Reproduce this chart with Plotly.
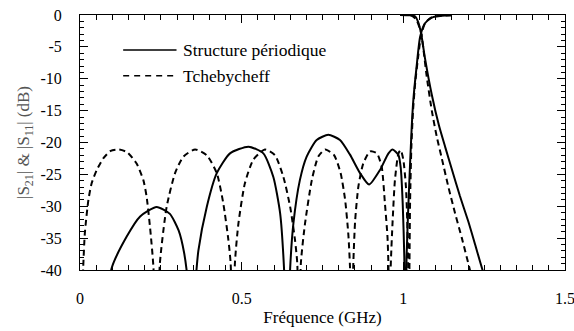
import plotly.graph_objects as go

# ---- Data ----
# Structure périodique : |S11|
per_s11_f = [0.075, 0.098, 0.144, 0.186, 0.237, 0.278, 0.305, 0.322, 0.334, 0.345,
             0.357, 0.366, 0.392, 0.423, 0.464, 0.521, 0.567, 0.598, 0.619, 0.631, 0.641,
             0.650, 0.660, 0.680, 0.701, 0.732, 0.768, 0.804, 0.835, 0.866, 0.894,
             0.928, 0.954, 0.967, 0.985, 0.992, 0.998, 1.003, 1.0065,
             1.010, 1.017, 1.026, 1.031, 1.041, 1.052, 1.067, 1.088, 1.119, 1.150]
per_s11_db = [-50, -39.7, -34.8, -31.6, -30.1, -31.2, -33.8, -37.3, -42.0, -50,
              -42.0, -37.0, -30.1, -24.8, -21.7, -20.65, -21.7, -25.4, -31.1, -39.7, -55,
              -39.7, -32.7, -25.9, -22.2, -19.6, -18.8, -19.6, -21.9, -24.8, -26.6,
              -24.3, -21.7, -21.1, -22.0, -24.0, -29.5, -38.0, -55,
              -38.0, -28.0, -17.5, -13.3, -8.1, -3.4, -1.3, -0.4, -0.1, -0.05]

# Structure périodique : |S21|
per_s21_f = [0.990, 1.020, 1.036, 1.045, 1.055, 1.067, 1.088, 1.110, 1.130,
             1.150, 1.175, 1.201, 1.222, 1.245, 1.265]
per_s21_db = [0.0, -0.05, -0.2, -1.0, -2.9, -6.8, -12.5, -17.3, -20.8,
              -24.2, -28.4, -32.4, -36.0, -40.0, -43.0]

# Tchebycheff : |S11|
tch_s11_f = [0.000, 0.010, 0.015, 0.026, 0.036, 0.052, 0.072, 0.095, 0.120, 0.145,
             0.175, 0.196, 0.206, 0.217, 0.227, 0.237,
             0.247, 0.268, 0.294, 0.320, 0.356, 0.392, 0.423, 0.443, 0.459, 0.466, 0.4725,
             0.479, 0.490, 0.510, 0.536, 0.572, 0.603, 0.629, 0.650, 0.665, 0.672, 0.6775,
             0.683, 0.696, 0.717, 0.737, 0.758, 0.786, 0.806, 0.820, 0.830, 0.835, 0.840,
             0.845, 0.851, 0.861, 0.876, 0.897, 0.918, 0.933, 0.943, 0.951, 0.954, 0.9575,
             0.961, 0.967, 0.974, 0.985, 0.992, 1.000, 1.008, 1.012, 1.015, 1.017,
             1.019, 1.021, 1.025, 1.030, 1.037, 1.046, 1.055, 1.068, 1.090, 1.120, 1.150]
tch_s11_db = [-55, -39.5, -34.2, -29.0, -26.4, -24.3, -22.5, -21.3, -21.1, -21.5,
              -23.3, -25.9, -28.5, -33.5, -39.5, -55,
              -39.0, -30.1, -24.8, -22.2, -21.1, -22.0, -24.8, -29.5, -35.3, -39.0, -55,
              -39.0, -32.7, -26.4, -22.7, -21.1, -22.0, -25.4, -30.1, -35.3, -39.0, -55,
              -39.0, -32.7, -25.9, -22.2, -21.1, -22.0, -24.8, -29.0, -34.5, -39.5, -55,
              -39.5, -32.2, -26.9, -23.3, -21.4, -21.7, -23.8, -29.5, -34.8, -39.5, -55,
              -39.5, -32.2, -25.9, -21.7, -21.2, -22.7, -26.9, -32.2, -39.5, -55,
              -39.0, -29.0, -20.5, -15.0, -10.5, -6.5, -3.2, -1.2, -0.3, -0.1, -0.05]

# Tchebycheff : |S21|
tch_s21_f = [0.990, 1.025, 1.040, 1.055, 1.062, 1.072, 1.088, 1.103, 1.119,
             1.139, 1.160, 1.181, 1.206, 1.225]
tch_s21_db = [0.0, -0.1, -0.7, -2.8, -5.3, -9.5, -15.0, -19.0, -22.5,
              -26.9, -31.1, -35.0, -40.0, -44.0]

x_tick_vals = [0, 0.5, 1, 1.5]
x_tick_text = ["0", "0.5", "1", "1.5"]
y_tick_vals = [0, -5, -10, -15, -20, -25, -30, -35, -40]
y_tick_text = ["0", "-5", "-10", "-15", "-20", "-25", "-30", "-35", "-40"]

series_names = ["Structure périodique", "Tchebycheff"]

FONT = "Liberation Serif, Times New Roman, serif"
solid = dict(color="black", width=2, shape="spline", smoothing=0.6)
dashed = dict(color="black", width=2, dash="6px,4px", shape="spline", smoothing=0.6)

fig = go.Figure()
fig.add_trace(go.Scatter(x=per_s11_f, y=per_s11_db, mode="lines", line=solid,
                         name=series_names[0], showlegend=False))
fig.add_trace(go.Scatter(x=per_s21_f, y=per_s21_db, mode="lines", line=solid,
                         name=series_names[0], showlegend=False))
fig.add_trace(go.Scatter(x=tch_s11_f, y=tch_s11_db, mode="lines", line=dashed,
                         name=series_names[1], showlegend=False))
fig.add_trace(go.Scatter(x=tch_s21_f, y=tch_s21_db, mode="lines", line=dashed,
                         name=series_names[1], showlegend=False))

# Legend key (inside the plot, top-left)
legend_rows = [(0.863, dict(color="black", width=1.5)),
               (0.762, dict(color="black", width=1.5, dash="6px,5px"))]
for (yy, ln), name in zip(legend_rows, series_names):
    fig.add_shape(type="line", xref="paper", yref="paper",
                  x0=0.089, x1=0.199, y0=yy, y1=yy, line=ln)
    fig.add_annotation(xref="paper", yref="paper", x=0.208, y=yy, text=name,
                       showarrow=False, xanchor="left", yanchor="middle",
                       font=dict(family=FONT, size=17.5, color="black"))

fig.update_xaxes(
    range=[0, 1.5], tickvals=x_tick_vals, ticktext=x_tick_text,
    ticks="inside", ticklen=8, tickwidth=1, tickcolor="black",
    minor=dict(dtick=0.05, ticks="inside", ticklen=5, tickcolor="black", tickwidth=1),
    showline=True, linecolor="black", linewidth=1, mirror="ticks",
    showgrid=False, zeroline=False, ticklabelstandoff=14, automargin=False,
    ticklabeloverflow="allow",
    tickfont=dict(family=FONT, size=16, color="black"),
    title=dict(text="Fréquence (GHz)", font=dict(family=FONT, size=17, color="black"), standoff=4),
)
fig.update_yaxes(
    range=[-40, 0], tickvals=y_tick_vals, ticktext=y_tick_text,
    ticks="inside", ticklen=8, tickwidth=1, tickcolor="black",
    minor=dict(dtick=1, ticks="inside", ticklen=4, tickcolor="black", tickwidth=1),
    showline=True, linecolor="black", linewidth=1, mirror="ticks",
    showgrid=False, zeroline=False, ticklabelstandoff=14, automargin=False,
    ticklabeloverflow="allow",
    tickfont=dict(family=FONT, size=16, color="black"),
    title=dict(text="|S<sub>21</sub>| &amp; |S<sub>11</sub>| (dB)",
               font=dict(family=FONT, size=17, color="#555555"), standoff=6),
)
fig.update_layout(
    width=574, height=331,
    margin=dict(l=80, r=9, t=15, b=61),
    paper_bgcolor="white", plot_bgcolor="white",
    showlegend=False,
)
fig.write_html(
    "out.html",
    config={"displayModeBar": False},
    post_script="document.body.style.margin='0';document.body.style.overflow='hidden';",
)
